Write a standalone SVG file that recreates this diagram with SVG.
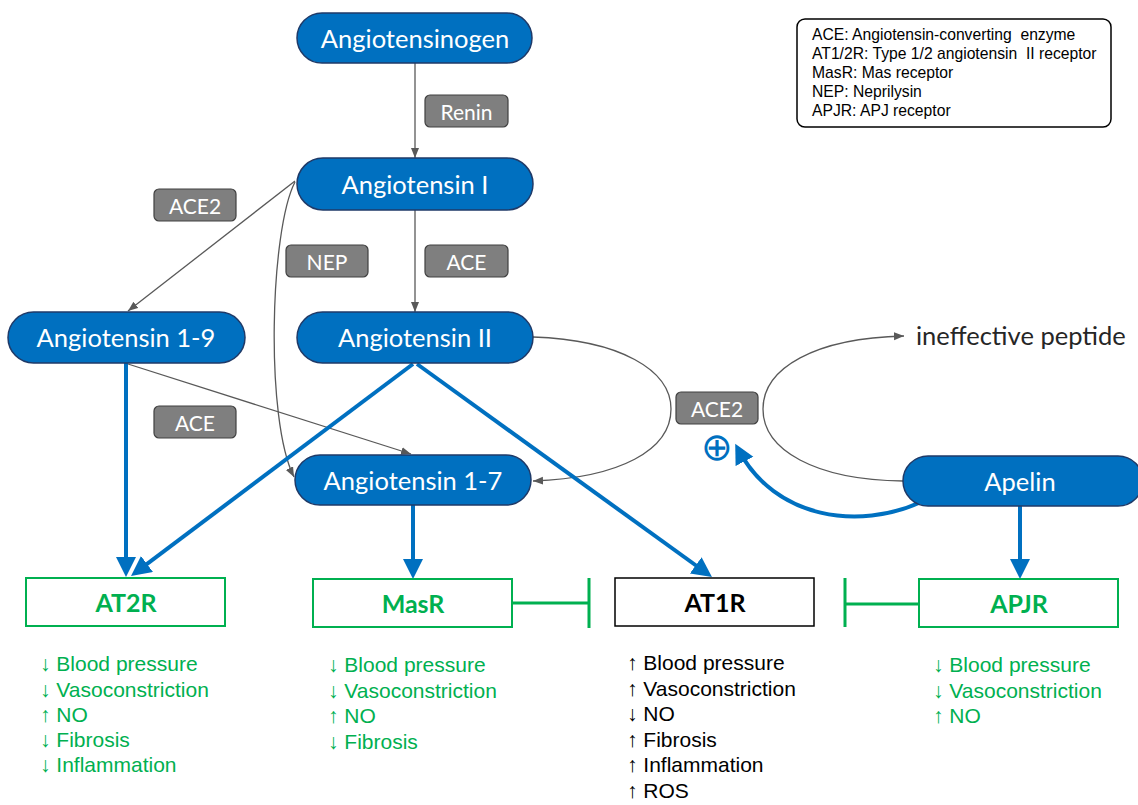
<svg xmlns="http://www.w3.org/2000/svg" width="1138" height="805" viewBox="0 0 1138 805">
<defs>
<style>
.pill{fill:#0070C0;stroke:#1F3A68;stroke-width:1.5}
.pt{font-family:Lato,"Open Sans",sans-serif;font-size:25.5px;fill:#fff;text-anchor:middle;dominant-baseline:central}
.enz{fill:#7F7F7F;stroke:#404040;stroke-width:1.2}
.et{font-family:Lato,"Open Sans",sans-serif;font-size:21px;fill:#fff;text-anchor:middle;dominant-baseline:central}
.g{fill:none;stroke:#595959;stroke-width:1.3}
.b{fill:none;stroke:#0070C0;stroke-width:4}
.rec{fill:#fff;stroke:#00B050;stroke-width:2}
.rt{font-family:Lato,"Open Sans",sans-serif;font-weight:bold;font-size:25px;fill:#00B050;text-anchor:middle;dominant-baseline:central}
.lst{font-family:"Liberation Sans",Arial,sans-serif;font-size:21px;fill:#00B050}
.blk{fill:#000}
.inh{fill:none;stroke:#00B050;stroke-width:3}
.lg{font-family:"Liberation Sans",Arial,sans-serif;font-size:15.7px;fill:#000;white-space:pre}
</style>
<marker id="ga" markerUnits="userSpaceOnUse" markerWidth="11" markerHeight="9" refX="10" refY="4" orient="auto"><path d="M0,0 L10,4 L0,8 z" fill="#595959"/></marker>
<marker id="ba" markerUnits="userSpaceOnUse" markerWidth="21" markerHeight="21" refX="14" refY="10" orient="auto"><path d="M0,0 L20,10 L0,20 z" fill="#0070C0"/></marker>
</defs>
<rect width="1138" height="805" fill="#fff"/>

<g id="connectors">
<line class="g" x1="415" y1="63" x2="415" y2="158" marker-end="url(#ga)"/>
<line class="g" x1="415" y1="210" x2="415" y2="312" marker-end="url(#ga)"/>
<line class="g" x1="295" y1="181" x2="128" y2="311" marker-end="url(#ga)"/>
<path class="g" d="M295,182 C270,230 265,420 294,477" marker-end="url(#ga)"/>
<line class="g" x1="128" y1="364" x2="411" y2="454" marker-end="url(#ga)"/>
<path class="g" d="M533,337 C620,340 671,370 671,409 C671,450 620,478 533,481" marker-end="url(#ga)"/>
<path class="g" d="M903,481 C815,480 763,450 763,409 C763,368 815,338 904,336" marker-end="url(#ga)"/>
<line class="b" x1="126" y1="363" x2="126" y2="571" marker-end="url(#ba)"/>
<line class="b" x1="413" y1="364" x2="135.8" y2="572.4" marker-end="url(#ba)"/>
<line class="b" x1="417" y1="364" x2="707.1" y2="573.5" marker-end="url(#ba)"/>
<line class="b" x1="413" y1="505" x2="413" y2="573" marker-end="url(#ba)"/>
<line class="b" x1="1020" y1="506" x2="1020" y2="573" marker-end="url(#ba)"/>
<path class="b" d="M921,502 C860,530 775,520 738,449" marker-end="url(#ba)"/>
<path class="inh" d="M512,603 H589 M589,578 V628"/>
<path class="inh" d="M919,604 H845 M845,578 V627"/>
</g>

<g id="angiotensinogen"><rect class="pill" x="297" y="13" width="235" height="50" rx="25"/><text class="pt" x="415" y="38">Angiotensinogen</text></g>
<g id="angiotensin-i"><rect class="pill" x="297" y="158" width="236" height="52" rx="26"/><text class="pt" x="415" y="184">Angiotensin I</text></g>
<g id="angiotensin-1-9"><rect class="pill" x="8" y="312" width="237" height="51" rx="25.5"/><text class="pt" x="126" y="337">Angiotensin 1-9</text></g>
<g id="angiotensin-ii"><rect class="pill" x="297" y="312" width="236" height="51" rx="25.5"/><text class="pt" x="415" y="337">Angiotensin II</text></g>
<g id="angiotensin-1-7"><rect class="pill" x="295" y="455" width="236" height="50" rx="25"/><text class="pt" x="413" y="480">Angiotensin 1-7</text></g>
<g id="apelin"><rect class="pill" x="903" y="456" width="240" height="50" rx="25"/><text class="pt" x="1020" y="481">Apelin</text></g>

<g id="renin"><rect class="enz" x="425" y="95" width="83" height="32" rx="5"/><text class="et" x="466.5" y="111">Renin</text></g>
<g id="ace2-left"><rect class="enz" x="154" y="189" width="82" height="32" rx="5"/><text class="et" x="195" y="205">ACE2</text></g>
<g id="nep"><rect class="enz" x="286" y="245" width="82" height="32" rx="5"/><text class="et" x="327" y="261">NEP</text></g>
<g id="ace-upper"><rect class="enz" x="425" y="245" width="83" height="32" rx="5"/><text class="et" x="466.5" y="261">ACE</text></g>
<g id="ace-lower"><rect class="enz" x="154" y="406" width="82" height="32" rx="5"/><text class="et" x="195" y="422">ACE</text></g>
<g id="ace2-right"><rect class="enz" x="676" y="392" width="82" height="32" rx="5"/><text class="et" x="717" y="408">ACE2</text></g>

<g id="plus"><text x="717" y="447" font-family="DejaVu Sans,sans-serif" font-size="38" fill="#0070C0" text-anchor="middle" dominant-baseline="central">⊕</text></g>

<g id="ineffective-peptide"><text x="916" y="335" font-family="Lato,'Open Sans',sans-serif" font-size="25.5" fill="#262626" dominant-baseline="central">ineffective peptide</text></g>

<g id="at2r"><rect class="rec" x="26" y="578" width="199" height="48"/><text class="rt" x="126" y="602">AT2R</text>
<text class="lst" x="40" y="671">↓ Blood pressure</text>
<text class="lst" x="40" y="697">↓ Vasoconstriction</text>
<text class="lst" x="40" y="722">↑ NO</text>
<text class="lst" x="40" y="747">↓ Fibrosis</text>
<text class="lst" x="40" y="772">↓ Inflammation</text></g>

<g id="masr"><rect class="rec" x="313" y="579" width="199" height="48"/><text class="rt" x="413" y="603">MasR</text>
<text class="lst" x="328" y="672">↓ Blood pressure</text>
<text class="lst" x="328" y="698">↓ Vasoconstriction</text>
<text class="lst" x="328" y="723">↑ NO</text>
<text class="lst" x="328" y="749">↓ Fibrosis</text></g>

<g id="at1r"><rect x="615" y="578" width="199" height="48" fill="#fff" stroke="#000" stroke-width="1.5"/><text class="rt blk" x="715" y="602">AT1R</text>
<text class="lst blk" x="627" y="670">↑ Blood pressure</text>
<text class="lst blk" x="627" y="696">↑ Vasoconstriction</text>
<text class="lst blk" x="627" y="721">↓ NO</text>
<text class="lst blk" x="627" y="747">↑ Fibrosis</text>
<text class="lst blk" x="627" y="772">↑ Inflammation</text>
<text class="lst blk" x="627" y="798">↑ ROS</text></g>

<g id="apjr"><rect class="rec" x="919" y="579" width="199" height="48"/><text class="rt" x="1019" y="603">APJR</text>
<text class="lst" x="933" y="672">↓ Blood pressure</text>
<text class="lst" x="933" y="698">↓ Vasoconstriction</text>
<text class="lst" x="933" y="723">↑ NO</text></g>

<g id="legend"><rect x="797" y="19" width="314" height="108" rx="8" fill="#fff" stroke="#000" stroke-width="1.5"/>
<text class="lg" x="812" y="40">ACE: Angiotensin-converting  enzyme</text>
<text class="lg" x="812" y="59">AT1/2R: Type 1/2 angiotensin  II receptor</text>
<text class="lg" x="812" y="78">MasR: Mas receptor</text>
<text class="lg" x="812" y="97">NEP: Neprilysin</text>
<text class="lg" x="812" y="116">APJR: APJ receptor</text></g>
</svg>
